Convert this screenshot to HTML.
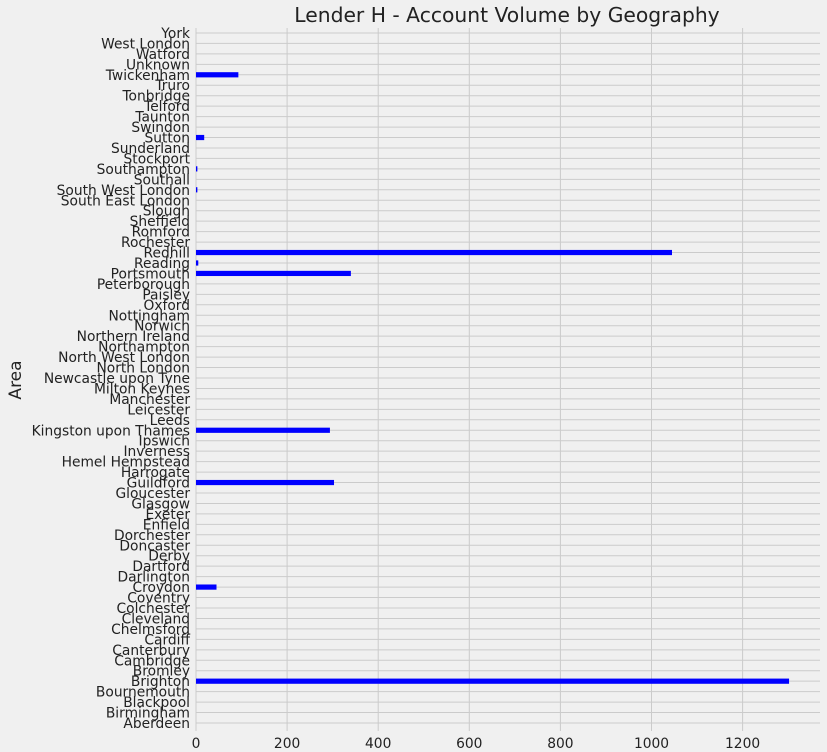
<!DOCTYPE html>
<html><head><meta charset="utf-8"><style>
body{margin:0;background:#f0f0f0;font-family:"DejaVu Sans","Liberation Sans",sans-serif;}
svg text{font-family:"DejaVu Sans","Liberation Sans",sans-serif;}
</style></head><body>
<svg id="chart" width="827" height="752" xmlns="http://www.w3.org/2000/svg" style="display:block">
<rect width="827" height="752" fill="#f0f0f0"/>
<text x="507" y="22" font-size="20.3" text-anchor="middle" fill="#222">Lender H - Account Volume by Geography</text>
<text transform="translate(21,380) rotate(-90)" font-size="17" text-anchor="middle" fill="#222">Area</text>
<g id="grid"></g><g id="bars"></g><g id="ylabels"></g><g id="xlabels"></g>
</svg>
<script>
const categories=["Aberdeen","Birmingham","Blackpool","Bournemouth","Brighton","Bromley","Cambridge","Canterbury","Cardiff","Chelmsford","Cleveland","Colchester","Coventry","Croydon","Darlington","Dartford","Derby","Doncaster","Dorchester","Enfield","Exeter","Glasgow","Gloucester","Guildford","Harrogate","Hemel Hempstead","Inverness","Ipswich","Kingston upon Thames","Leeds","Leicester","Manchester","Milton Keynes","Newcastle upon Tyne","North London","North West London","Northampton","Northern Ireland","Norwich","Nottingham","Oxford","Paisley","Peterborough","Portsmouth","Reading","Redhill","Rochester","Romford","Sheffield","Slough","South East London","South West London","Southall","Southampton","Stockport","Sunderland","Sutton","Swindon","Taunton","Telford","Tonbridge","Truro","Twickenham","Unknown","Watford","West London","York"];
const valueMap={"Brighton":1302,"Croydon":45,"Guildford":303,"Kingston upon Thames":294,"Portsmouth":340,"Reading":5,"Redhill":1045,"South West London":3,"Southampton":3,"Sutton":18,"Twickenham":93};
const values=categories.map(c=>valueMap[c]||0);
const xTicks=[0,200,400,600,800,1000,1200];
const NS="http://www.w3.org/2000/svg";
const x0=196,pxPer=0.4555,yBase=723,step=10.455;
const xs=v=>x0+v*pxPer, ys=i=>yBase-i*step;
function mk(tag,attrs,parent){const e=document.createElementNS(NS,tag);for(const k in attrs)e.setAttribute(k,attrs[k]);document.getElementById(parent).appendChild(e);return e;}
xTicks.forEach(t=>{
 const l=mk('line',{x1:xs(t),x2:xs(t),y1:28,y2:731,stroke:'#cbcbcb','stroke-width':1},'grid');
 
 
 const tx=mk('text',{x:xs(t),y:748,'font-size':13.8,'text-anchor':'middle',fill:'#222'},'xlabels');
 tx.textContent=t;
 
 
});
categories.forEach((c,i)=>{
 const y=ys(i);
 const g=mk('line',{x1:196,x2:820,y1:y,y2:y,stroke:'#cbcbcb','stroke-width':1},'grid');
 
 
 const tx=mk('text',{x:190,y:y+5,'font-size':13.8,'text-anchor':'end',fill:'#222'},'ylabels');
 tx.textContent=c;
 
 
 if(values[i]>0){
  const b=mk('rect',{x:xs(0),y:y-2.6,width:Math.max(xs(values[i])-xs(0),1),height:5.2,fill:'#0000ff'},'bars');
  
  
 }
});
</script>
</body></html>
